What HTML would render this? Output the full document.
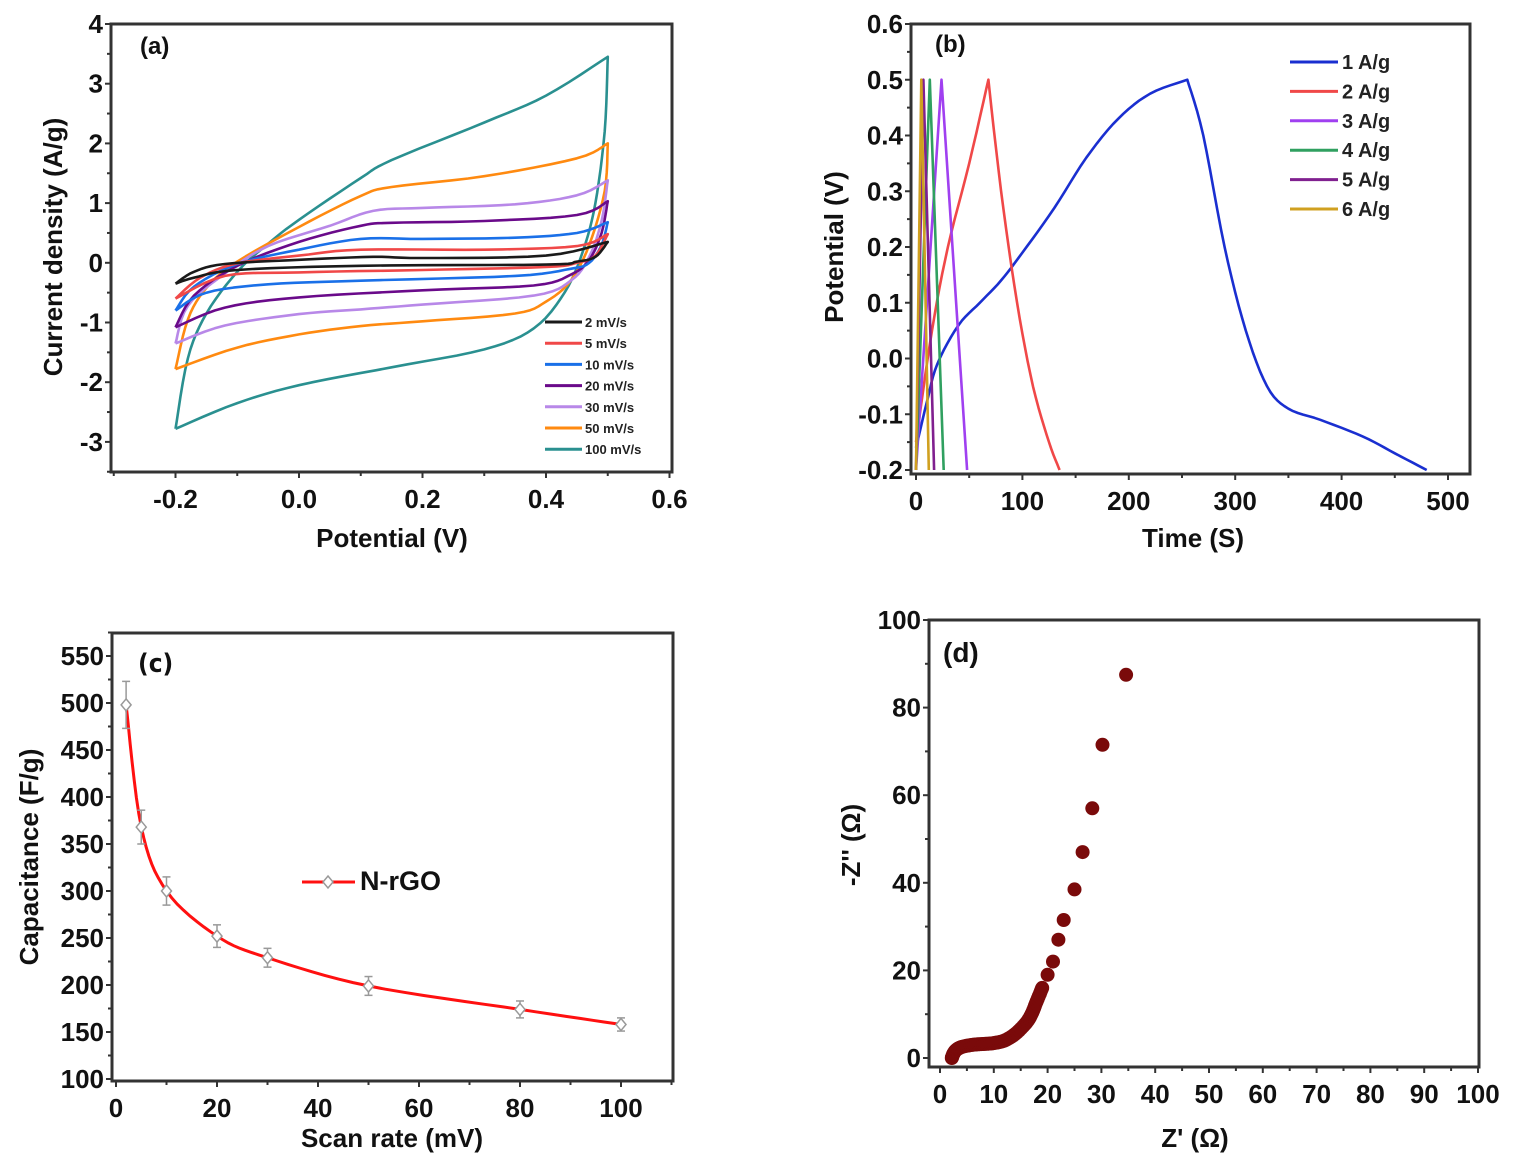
<!DOCTYPE html>
<html><head><meta charset="utf-8">
<style>
html,body{margin:0;padding:0;background:#fff;}
svg{display:block;font-family:"Liberation Sans",Arial,sans-serif;font-weight:bold;}
</style></head>
<body>
<svg id="s" width="1516" height="1164" viewBox="0 0 1516 1164" xmlns="http://www.w3.org/2000/svg">
<rect width="1516" height="1164" fill="#fff"/>
<g id="g"></g>
<g fill="#111" font-size="26">
 <text x="392" y="547" text-anchor="middle">Potential (V)</text>
 <text transform="translate(62,247) rotate(-90)" text-anchor="middle">Current density (A/g)</text>
 <text x="1193" y="547" text-anchor="middle">Time (S)</text>
 <text transform="translate(843,247) rotate(-90)" text-anchor="middle">Potential (V)</text>
 <text x="392" y="1147" text-anchor="middle">Scan rate (mV)</text>
 <text transform="translate(38,857) rotate(-90)" text-anchor="middle">Capacitance (F/g)</text>
 <text x="1195" y="1147" text-anchor="middle">Z' (Ω)</text>
 <text transform="translate(860,845) rotate(-90)" text-anchor="middle">-Z'' (Ω)</text>
 <text x="140" y="54" font-size="24">(a)</text>
 <text x="935" y="52" font-size="24">(b)</text>
 <text x="138" y="672" font-size="26" font-family="'DejaVu Sans Condensed','DejaVu Sans',sans-serif">(c)</text>
 <text x="943" y="662" font-size="28">(d)</text>
 <text x="360" y="890" font-size="27">N-rGO</text>
</g>
</svg>
<script>
const g=document.getElementById('g');let h='';
function P(pts,fx,fy){return pts.map((p,i)=>(i?'L':'M')+fx(p[0]).toFixed(1)+' '+fy(p[1]).toFixed(1)).join(' ');}
function smooth(pts,n){
 let out=[];for(let i=0;i<pts.length-1;i++){let p0=pts[Math.max(0,i-1)],p1=pts[i],p2=pts[i+1],p3=pts[Math.min(pts.length-1,i+2)];
 for(let k=0;k<n;k++){let t=k/n,t2=t*t,t3=t2*t;out.push([0,1].map(j=>0.5*((2*p1[j])+(-p0[j]+p2[j])*t+(2*p0[j]-5*p1[j]+4*p2[j]-p3[j])*t2+(-p0[j]+3*p1[j]-3*p2[j]+p3[j])*t3)));}}
 out.push(pts[pts.length-1]);return out;}
function smooth2(pts,ci,n){return smooth(pts.slice(0,ci+1),n).concat(smooth(pts.slice(ci),n).slice(1));}
function frame(x0,y0,x1,y1){h+=`<rect x="${x0}" y="${y0}" width="${x1-x0}" height="${y1-y0}" fill="none" stroke="#333" stroke-width="3"/>`;}
function xt(vals,fx,y,lab,fs,minor){vals.forEach(v=>{let x=fx(v);h+=`<line x1="${x}" y1="${y}" x2="${x}" y2="${y+6}" stroke="#333" stroke-width="2"/>`;h+=`<text x="${x}" y="${y+36}" text-anchor="middle" font-size="${fs}" fill="#111">${lab(v)}</text>`;});
 (minor||[]).forEach(v=>{let x=fx(v);h+=`<line x1="${x}" y1="${y}" x2="${x}" y2="${y+4}" stroke="#333" stroke-width="2"/>`;});}
function yt(vals,fy,x,lab,fs,minor){vals.forEach(v=>{let y=fy(v);h+=`<line x1="${x}" y1="${y}" x2="${x-6}" y2="${y}" stroke="#333" stroke-width="2"/>`;h+=`<text x="${x-8}" y="${y+9}" text-anchor="end" font-size="${fs}" fill="#111">${lab(v)}</text>`;});
 (minor||[]).forEach(v=>{let y=fy(v);h+=`<line x1="${x}" y1="${y}" x2="${x-4}" y2="${y}" stroke="#333" stroke-width="2"/>`;});}
// Panel a
{const fx=v=>299+v*617.5, fy=v=>24+(4-v)*59.7;
const C=[
['#2a9090','100 mV/s',[[-0.2,-2.78],[-0.18,-1.6],[-0.15,-0.85],[-0.1,-0.15],[-0.05,0.32],[0,0.72],[0.1,1.42],[0.15,1.72],[0.3,2.35],[0.4,2.8],[0.5,3.45],[0.495,2.2],[0.48,1.0],[0.46,0.2],[0.43,-0.5],[0.38,-1.1],[0.3,-1.45],[0.15,-1.75],[0,-2.05],[-0.1,-2.35],[-0.2,-2.78]]],
['#ff8a10','50 mV/s',[[-0.2,-1.78],[-0.18,-0.95],[-0.15,-0.42],[-0.1,0.02],[0,0.6],[0.1,1.12],[0.15,1.27],[0.3,1.45],[0.45,1.75],[0.5,2.0],[0.495,1.2],[0.47,0.3],[0.44,-0.3],[0.4,-0.65],[0.35,-0.85],[0.2,-0.98],[0.1,-1.06],[0,-1.2],[-0.1,-1.42],[-0.2,-1.78]]],
['#b888e8','30 mV/s',[[-0.2,-1.35],[-0.18,-0.72],[-0.12,-0.18],[-0.05,0.28],[0.05,0.62],[0.12,0.87],[0.2,0.92],[0.35,0.98],[0.45,1.13],[0.5,1.38],[0.49,0.7],[0.47,0.1],[0.44,-0.3],[0.38,-0.55],[0.2,-0.7],[0.1,-0.78],[0,-0.86],[-0.12,-1.05],[-0.2,-1.35]]],
['#6a0a8a','20 mV/s',[[-0.2,-1.08],[-0.17,-0.55],[-0.1,-0.05],[0,0.35],[0.1,0.62],[0.15,0.67],[0.3,0.7],[0.45,0.8],[0.5,1.03],[0.49,0.5],[0.47,0.05],[0.44,-0.2],[0.38,-0.38],[0.2,-0.46],[0,-0.58],[-0.12,-0.75],[-0.2,-1.08]]],
['#1a70e8','10 mV/s',[[-0.2,-0.8],[-0.17,-0.4],[-0.1,-0.02],[0,0.22],[0.1,0.4],[0.2,0.4],[0.35,0.42],[0.45,0.5],[0.5,0.68],[0.49,0.3],[0.47,0.0],[0.44,-0.1],[0.35,-0.22],[0.1,-0.3],[-0.05,-0.36],[-0.15,-0.5],[-0.2,-0.8]]],
['#f04848','5 mV/s',[[-0.2,-0.6],[-0.16,-0.25],[-0.1,-0.01],[0,0.12],[0.1,0.22],[0.3,0.22],[0.45,0.28],[0.5,0.48],[0.48,0.12],[0.45,0.0],[0.4,-0.07],[0.2,-0.12],[0,-0.16],[-0.12,-0.22],[-0.2,-0.6]]],
['#1a1a1a','2 mV/s',[[-0.2,-0.35],[-0.17,-0.15],[-0.12,-0.02],[0,0.05],[0.12,0.1],[0.2,0.08],[0.4,0.12],[0.5,0.35],[0.48,0.1],[0.45,0.02],[0.4,-0.03],[0.1,-0.05],[-0.1,-0.12],[-0.17,-0.25],[-0.2,-0.35]]]];
C.forEach(c=>{let ci=c[2].findIndex(p=>p[0]===0.5);h+=`<path d="${P(smooth2(c[2],ci,6),fx,fy)}" fill="none" stroke="${c[0]}" stroke-width="2.6" stroke-linejoin="round"/>`;});
frame(111,24,672,472);
yt([-3,-2,-1,0,1,2,3,4],fy,111,v=>v,26,[-3.5,-2.5,-1.5,-0.5,0.5,1.5,2.5,3.5]);
xt([-0.2,0,0.2,0.4,0.6],fx,472,v=>v.toFixed(1),26,[-0.3,-0.1,0.1,0.3,0.5]);
C.slice().reverse().forEach((c,i)=>{let y=322+i*21.2;h+=`<line x1="545" y1="${y}" x2="582" y2="${y}" stroke="${c[0]}" stroke-width="3"/><text x="585" y="${y+5}" font-size="13" fill="#222">${c[1]}</text>`;});
}
// Panel b
{const fx=t=>916+t*1.064, fy=v=>24+(0.6-v)*557.5;
const C=[
['#1a2fd0','1 A/g',[[0,-0.16],[10,-0.08],[20,-0.01],[40,0.06],[60,0.1],[80,0.14],[100,0.19],[130,0.27],[160,0.36],[190,0.43],[220,0.475],[255,0.5],[270,0.4],[290,0.2],[310,0.05],[330,-0.05],[350,-0.09],[380,-0.11],[420,-0.14],[450,-0.17],[480,-0.2]],11],
['#f04848','2 A/g',[[0,-0.15],[15,0.05],[30,0.2],[50,0.35],[68,0.5],[80,0.3],[95,0.1],[110,-0.05],[125,-0.15],[135,-0.2]],4],
['#a040f0','3 A/g',[[0,-0.2],[24,0.5],[48,-0.2]]],
['#30a060','4 A/g',[[0,-0.2],[13,0.5],[26,-0.2]]],
['#80208f','5 A/g',[[0,-0.2],[7,0.5],[17,-0.2]]],
['#d0a020','6 A/g',[[0,-0.2],[5,0.5],[12,-0.2]]]];
C.forEach((c,i)=>{let pts=i<2?smooth2(c[2],c[3],6):c[2];h+=`<path d="${P(pts,fx,fy)}" fill="none" stroke="${c[0]}" stroke-width="2.6" stroke-linejoin="round"/>`;});
frame(911,24,1470,474);
yt([-0.2,-0.1,0,0.1,0.2,0.3,0.4,0.5,0.6],fy,911,v=>v.toFixed(1),26,[-0.15,-0.05,0.05,0.15,0.25,0.35,0.45,0.55]);
xt([0,100,200,300,400,500],fx,474,v=>v,26,[50,150,250,350,450]);
C.forEach((c,i)=>{let y=62+i*29.4;h+=`<line x1="1290" y1="${y}" x2="1338" y2="${y}" stroke="${c[0]}" stroke-width="3"/><text x="1342" y="${y+7}" font-size="20" fill="#222">${c[1]}</text>`;});
}
// Panel c
{const fx=r=>116+r*5.05, fy=c=>1079-(c-100)*0.94;
const D=[[2,498,25],[5,368,18],[10,300,15],[20,252,12],[30,229,10],[50,199,10],[80,174,9],[100,158,7]];
h+=`<path d="${P(smooth(D.map(d=>[d[0],d[1]]),8),fx,fy)}" fill="none" stroke="#ff1010" stroke-width="3"/>`;
D.forEach(d=>{let x=fx(d[0]),y=fy(d[1]),e=d[2]*0.94;h+=`<g stroke="#999" stroke-width="1.5" fill="none"><line x1="${x}" y1="${y-e}" x2="${x}" y2="${y+e}"/><line x1="${x-4}" y1="${y-e}" x2="${x+4}" y2="${y-e}"/><line x1="${x-4}" y1="${y+e}" x2="${x+4}" y2="${y+e}"/><path d="M${x} ${y-6}L${x+5} ${y}L${x} ${y+6}L${x-5} ${y}Z" fill="#fff"/></g>`;});
frame(112,633,673,1081);
yt([100,150,200,250,300,350,400,450,500,550],fy,112,v=>v,26,[125,175,225,275,325,375,425,475,525,575]);
xt([0,20,40,60,80,100],fx,1081,v=>v,26,[10,30,50,70,90,110]);
h+=`<line x1="302" y1="882" x2="355" y2="882" stroke="#ff1010" stroke-width="3"/><path d="M328 876L333 882L328 888L323 882Z" fill="#fff" stroke="#999" stroke-width="1.5"/>`;
}
// Panel d
{const fx=z=>940+z*5.38, fy=v=>1058-v*4.38;
let dense=smooth([[2.2,0],[2.5,1],[3,1.8],[4,2.5],[6,3],[8,3.2],[10,3.4],[12,4],[14,5.5],[16,8],[17,10],[18,13],[19,16]],6);
let pts=dense.concat([[20,19],[21,22],[22,27],[23,31.5],[25,38.5],[26.5,47],[28.3,57],[30.2,71.5],[34.6,87.5]]);
pts.forEach(p=>{h+=`<circle cx="${fx(p[0]).toFixed(1)}" cy="${fy(p[1]).toFixed(1)}" r="7" fill="#7a0a0a"/>`;});
frame(929,620,1479,1067);
yt([0,20,40,60,80,100],fy,929,v=>v,26,[10,30,50,70,90]);
xt([0,10,20,30,40,50,60,70,80,90,100],fx,1067,v=>v,26,[5,15,25,35,45,55,65,75,85,95]);
}
g.innerHTML=h;
</script>
</body></html>
